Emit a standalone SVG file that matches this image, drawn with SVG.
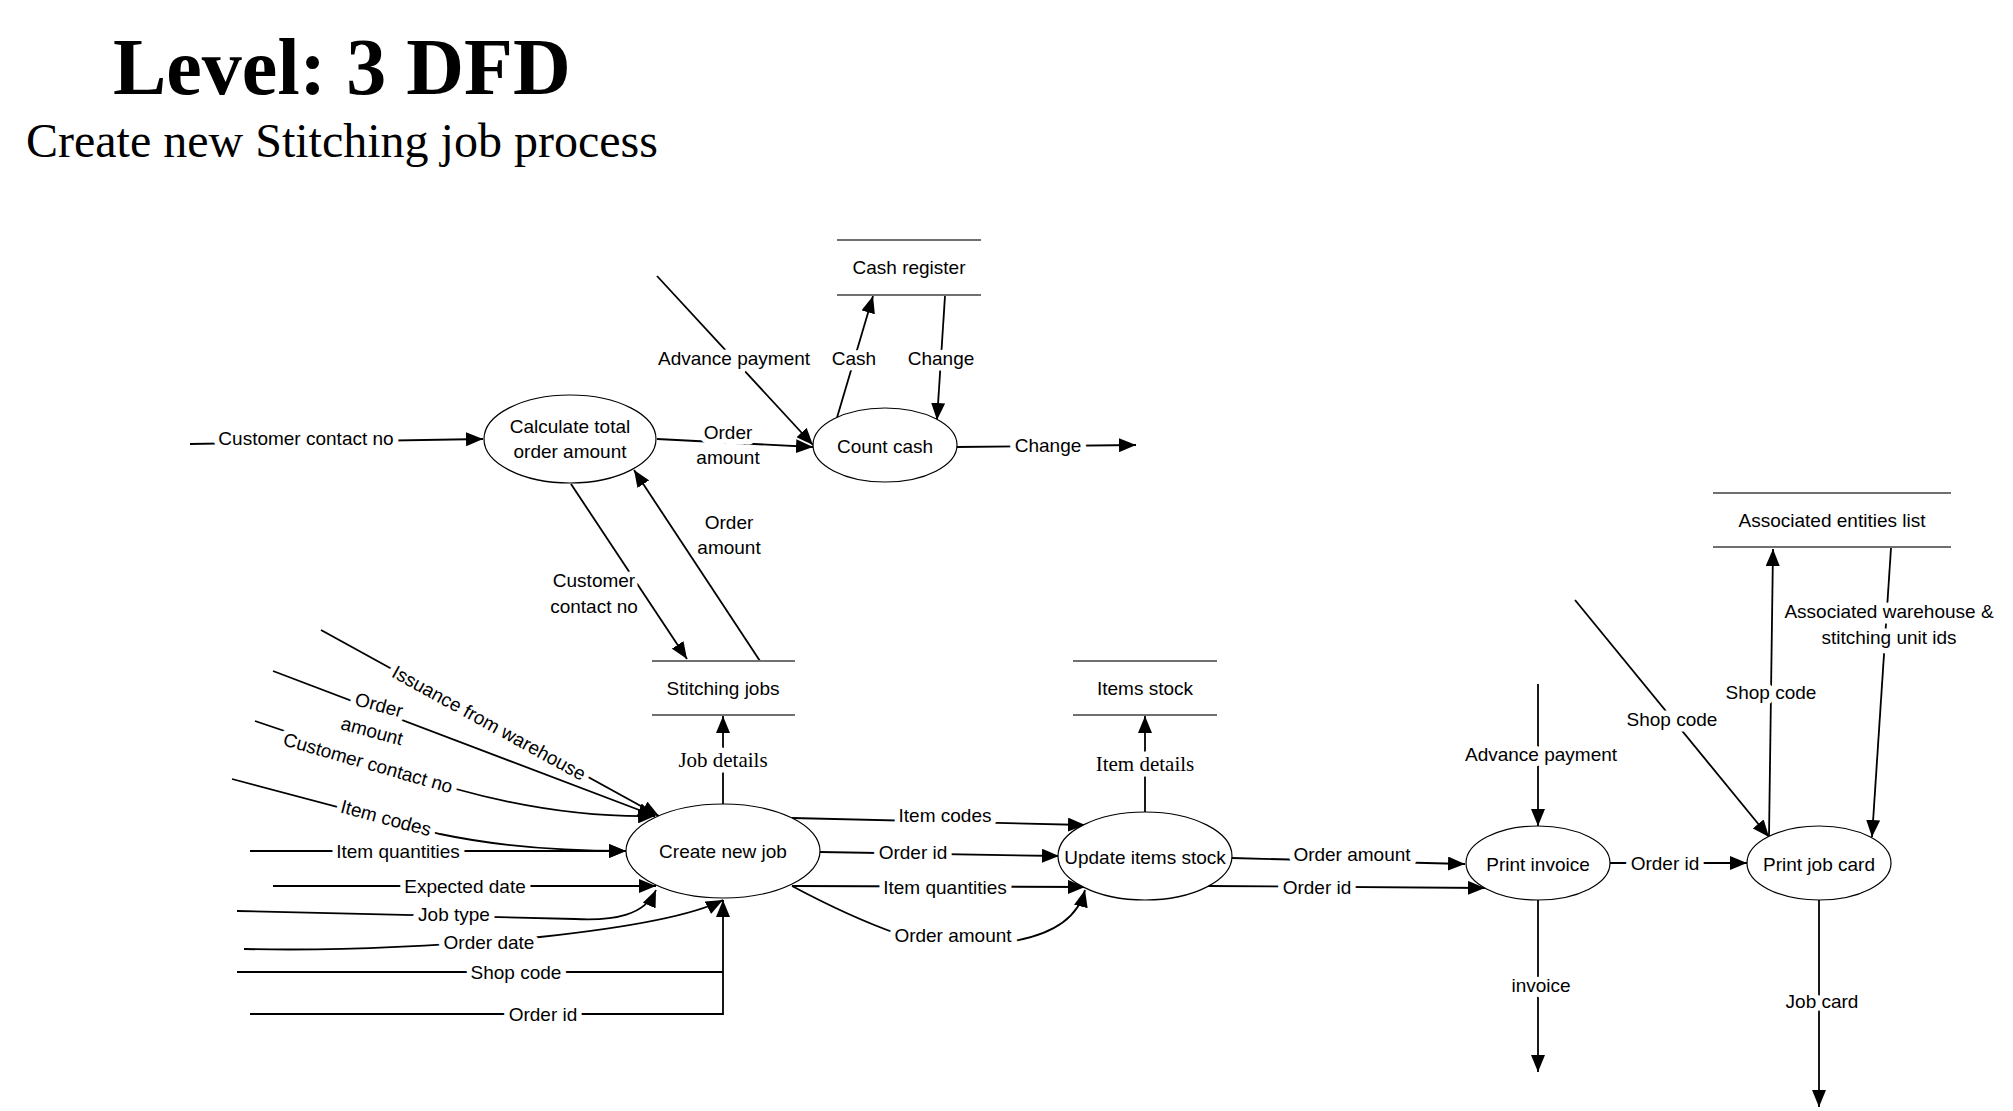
<svg xmlns="http://www.w3.org/2000/svg" width="2013" height="1111" viewBox="0 0 2013 1111">
<style>
.c{fill:none;stroke:#000;stroke-width:1.8}
.n{fill:#fff;stroke:#000;stroke-width:1.2}
.s{stroke:#707070;stroke-width:2}
text{font-family:"Liberation Sans",Arial,sans-serif;font-size:19px;fill:#000;text-anchor:middle;dominant-baseline:central}
.l{paint-order:stroke;stroke:#fff;stroke-width:11;stroke-linejoin:round}
.t{font-family:"Liberation Serif","Times New Roman",serif;font-size:21px}
</style>
<defs>
<marker id="a" markerUnits="userSpaceOnUse" markerWidth="17" markerHeight="14" refX="17" refY="7" orient="auto">
<path d="M0,0 L17,7 L0,14 z" fill="#000"/>
</marker>
</defs>
<rect width="2013" height="1111" fill="#fff"/>
<text x="113" y="94" style="font-family:'Liberation Serif','Times New Roman',serif;font-size:80px;font-weight:bold;text-anchor:start;dominant-baseline:alphabetic">Level: 3 DFD</text>
<text x="26" y="157" style="font-family:'Liberation Serif','Times New Roman',serif;font-size:48px;text-anchor:start;dominant-baseline:alphabetic">Create new Stitching job process</text>

<g id="connectors">
<path class="c" marker-end="url(#a)" d="M190,444 L483,439"/>
<path class="c" marker-end="url(#a)" d="M657,439 L813,447"/>
<path class="c" marker-end="url(#a)" d="M657,276 L813,445"/>
<path class="c" marker-end="url(#a)" d="M836,421 L873,296"/>
<path class="c" marker-end="url(#a)" d="M945,296 L937,420"/>
<path class="c" marker-end="url(#a)" d="M957,447 L1136,445"/>
<path class="c" marker-end="url(#a)" d="M571,484 L687,659"/>
<path class="c" marker-end="url(#a)" d="M760,661 L634,470"/>
<path class="c" marker-end="url(#a)" d="M723,804 L723,716"/>
<path class="c" marker-end="url(#a)" d="M1145,812 L1145,716"/>
<path class="c" marker-end="url(#a)" d="M321,630 L659,816"/>
<path class="c" marker-end="url(#a)" d="M273,671 L655,816"/>
<path class="c" marker-end="url(#a)" d="M255,721 L456,789 Q560,818 655,816"/>
<path class="c" marker-end="url(#a)" d="M232,779 L440,834 Q520,851 626,851"/>
<path class="c" marker-end="url(#a)" d="M250,851 L626,851"/>
<path class="c" marker-end="url(#a)" d="M273,886 L656,886"/>
<path class="c" marker-end="url(#a)" d="M237,911 L575,919 C615,921 645,915 656,890"/>
<path class="c" marker-end="url(#a)" d="M244,949 Q380,952 540,937 Q680,922 723,900"/>
<path class="c" d="M237,972 L723,972"/>
<path class="c" marker-end="url(#a)" d="M250,1014 L723,1014 L723,900"/>
<path class="c" marker-end="url(#a)" d="M792,818 L1085,825"/>
<path class="c" marker-end="url(#a)" d="M820,852 L1059,856"/>
<path class="c" marker-end="url(#a)" d="M792,886 L1085,887"/>
<path class="c" marker-end="url(#a)" d="M792,886 Q850,917 898,934 L1014,941 Q1075,930 1085,890"/>
<path class="c" marker-end="url(#a)" d="M1232,858 L1465,864"/>
<path class="c" marker-end="url(#a)" d="M1207,886 L1485,888"/>
<path class="c" marker-end="url(#a)" d="M1538,684 L1538,826"/>
<path class="c" marker-end="url(#a)" d="M1538,900 L1538,1072"/>
<path class="c" marker-end="url(#a)" d="M1610,863 L1747,863"/>
<path class="c" marker-end="url(#a)" d="M1575,600 L1769,837"/>
<path class="c" marker-end="url(#a)" d="M1769,837 L1773,549"/>
<path class="c" marker-end="url(#a)" d="M1891,548 L1872,837"/>
<path class="c" marker-end="url(#a)" d="M1819,900 L1819,1107"/>

<text class="l" x="306" y="438">Customer contact no</text>
<text class="l" x="728" y="432">Order</text>
<text class="l" x="728" y="457">amount</text>
<text class="l" x="734" y="358">Advance payment</text>
<text class="l" x="854" y="358">Cash</text>
<text class="l" x="941" y="358">Change</text>
<text class="l" x="1048" y="445">Change</text>
<text class="l" x="594" y="580">Customer</text>
<text class="l" x="594" y="606">contact no</text>
<text class="l" x="729" y="522">Order</text>
<text class="l" x="729" y="547">amount</text>
<text class="l t" x="723" y="760">Job details</text>
<text class="l t" x="1145" y="764">Item details</text>
<text class="l" transform="translate(489,723) rotate(28.8)">Issuance from warehouse</text>
<text class="l" transform="translate(379,705) rotate(15)">Order</text>
<text class="l" transform="translate(372,731) rotate(15)">amount</text>
<text class="l" transform="translate(368,763) rotate(16)">Customer contact no</text>
<text class="l" transform="translate(386,818) rotate(15)">Item codes</text>
<text class="l" x="398" y="851">Item quantities</text>
<text class="l" x="465" y="886">Expected date</text>
<text class="l" x="454" y="914">Job type</text>
<text class="l" x="489" y="942">Order date</text>
<text class="l" x="516" y="972">Shop code</text>
<text class="l" x="543" y="1014">Order id</text>
<text class="l" x="945" y="815">Item codes</text>
<text class="l" x="913" y="852">Order id</text>
<text class="l" x="945" y="887">Item quantities</text>
<text class="l" x="953" y="935">Order amount</text>
<text class="l" x="1352" y="854">Order amount</text>
<text class="l" x="1317" y="887">Order id</text>
<text class="l" x="1541" y="754">Advance payment</text>
<text class="l" x="1541" y="985">invoice</text>
<text class="l" x="1665" y="863">Order id</text>
<text class="l" x="1672" y="719">Shop code</text>
<text class="l" x="1771" y="692">Shop code</text>
<text class="l" x="1889" y="611">Associated warehouse &amp;</text>
<text class="l" x="1889" y="637">stitching unit ids</text>
<text class="l" x="1822" y="1001">Job card</text>
</g>

<g id="calc-total">
<ellipse class="n" cx="570" cy="439" rx="86" ry="44"/>
<text x="570" y="426">Calculate total</text>
<text x="570" y="451">order amount</text>
</g>
<g id="count-cash">
<ellipse class="n" cx="885" cy="445" rx="72" ry="37"/>
<text x="885" y="446">Count cash</text>
</g>
<g id="create-new-job">
<ellipse class="n" cx="723" cy="851" rx="97" ry="47"/>
<text x="723" y="851">Create new job</text>
</g>
<g id="update-items-stock">
<ellipse class="n" cx="1145" cy="856" rx="87" ry="44"/>
<text x="1145" y="857">Update items stock</text>
</g>
<g id="print-invoice">
<ellipse class="n" cx="1538" cy="863" rx="72" ry="37"/>
<text x="1538" y="864">Print invoice</text>
</g>
<g id="print-job-card">
<ellipse class="n" cx="1819" cy="863" rx="72" ry="37"/>
<text x="1819" y="864">Print job card</text>
</g>
<g id="cash-register">
<line class="s" x1="837" y1="240" x2="981" y2="240"/>
<line class="s" x1="837" y1="295" x2="981" y2="295"/>
<text x="909" y="267">Cash register</text>
</g>
<g id="stitching-jobs">
<line class="s" x1="652" y1="661" x2="795" y2="661"/>
<line class="s" x1="652" y1="715" x2="795" y2="715"/>
<text x="723" y="688">Stitching jobs</text>
</g>
<g id="items-stock">
<line class="s" x1="1073" y1="661" x2="1217" y2="661"/>
<line class="s" x1="1073" y1="715" x2="1217" y2="715"/>
<text x="1145" y="688">Items stock</text>
</g>
<g id="associated-entities-list">
<line class="s" x1="1713" y1="493" x2="1951" y2="493"/>
<line class="s" x1="1713" y1="547" x2="1951" y2="547"/>
<text x="1832" y="520">Associated entities list</text>
</g>
</svg>
